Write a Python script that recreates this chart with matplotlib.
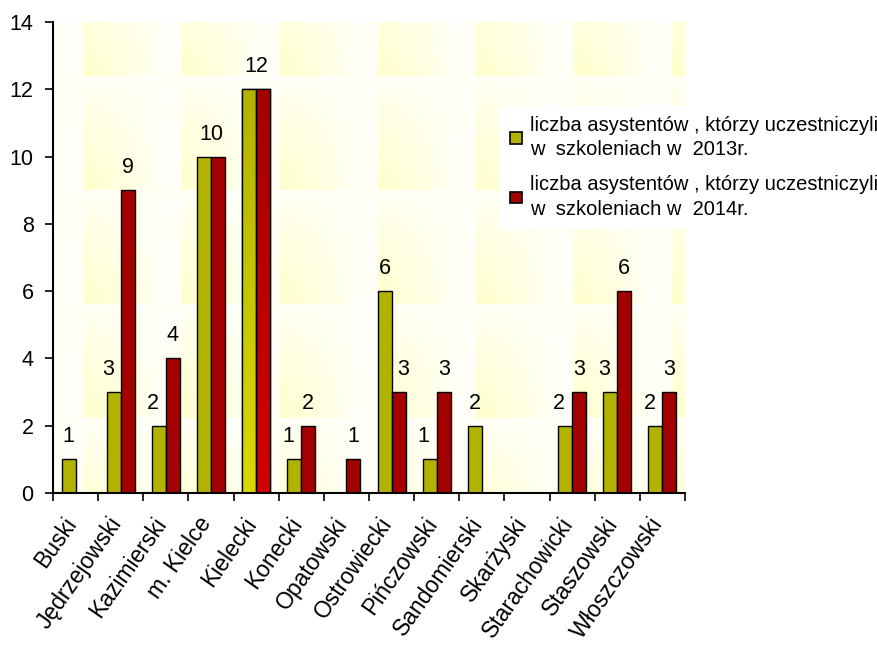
import numpy as np
import matplotlib
matplotlib.use("Agg")
import matplotlib.pyplot as plt
import matplotlib.transforms as mtransforms
from matplotlib.patches import Patch

plt.rcParams['font.family'] = ['Liberation Sans', 'DejaVu Sans']

powiaty = ['Buski', 'Jędrzejowski', 'Kazimierski', 'm. Kielce', 'Kielecki',
           'Konecki', 'Opatowski', 'Ostrowiecki', 'Pińczowski', 'Sandomierski',
           'Skarżyski', 'Starachowicki', 'Staszowski', 'Włoszczowski']
asyst_2013 = [1, 3, 2, 10, 12, 1, 0, 6, 1, 2, 0, 2, 3, 2]
asyst_2014 = [0, 9, 4, 10, 12, 2, 1, 3, 3, 0, 0, 3, 6, 3]
label_2013 = 'liczba asystentów , którzy uczestniczyli\nw  szkoleniach w  2013r.'
label_2014 = 'liczba asystentów , którzy uczestniczyli\nw  szkoleniach w  2014r.'

olive = '#b2b200'
dark_red = '#a30000'

W, H = 877, 648
fig = plt.figure(figsize=(W / 100, H / 100), dpi=100)
# axes box in pixels (left, right, top, bottom)
L, R, T, B = 53, 685, 22, 493
ax = fig.add_axes([L / W, 1 - B / H, (R - L) / W, (B - T) / H])

# pale yellow tiled texture behind the plot area
X, Y = np.meshgrid(np.arange(L, R), np.arange(T, B))
px = (X - 84) % 98
py = (Y - 76) % 114
hf = np.clip(1 - px / 75.0, 0, 1) ** 0.7
vf = (py / 114.0) ** 0.7
a = np.clip(0.12 + 0.88 * hf * vf, 0, 1)
yel = np.array([1.0, 1.0, 0.80])
tex = np.ones(X.shape + (3,)) * (1 - a[..., None]) + yel * a[..., None]
ax.imshow(tex, extent=[0, 1, 0, 1], transform=ax.transAxes, aspect='auto',
          zorder=0, interpolation='nearest')

x = np.arange(len(powiaty))
bw = 0.31
b1 = ax.bar(x - bw / 2, asyst_2013, bw, color=olive, edgecolor='black',
            linewidth=1.0, zorder=2, label=label_2013)
b2 = ax.bar(x + bw / 2, asyst_2014, bw, color=dark_red, edgecolor='black',
            linewidth=1.0, zorder=2, label=label_2014)

# Kielecki bars have a brighter gradient toward the bottom
k = powiaty.index('Kielecki')
for bars, top_c, bot_c in [(b1, (0.70, 0.70, 0.0), (0.85, 0.85, 0.0)),
                           (b2, (0.64, 0.0, 0.0), (0.82, 0.0, 0.0))]:
    p = bars[k]
    g = np.linspace(0, 1, 100)[:, None, None]
    img = np.array(top_c) * (1 - g) + np.array(bot_c) * g
    img = np.repeat(img, 2, axis=1)
    xb, yb = p.get_x(), p.get_height()
    im = ax.imshow(img, extent=[xb, xb + p.get_width(), 0, yb],
                   aspect='auto', zorder=2.1)
    im.set_clip_path(p)
    ax.bar(xb + p.get_width() / 2, yb, p.get_width(), fill=False,
           edgecolor='black', linewidth=1.0, zorder=2.2)

# value labels: one label over the group when both years are equal,
# the lower label of a pair is nudged outward a little
for i, (v1, v2) in enumerate(zip(asyst_2013, asyst_2014)):
    if v1 == v2:
        spots = [(x[i], v1, 0)] if v1 else []
    else:
        both = v1 > 0 and v2 > 0
        d1 = -6 if (both and v1 < v2) else 0
        d2 = 5 if (both and v2 < v1) else 0
        spots = [(x[i] - bw / 2, v1, d1), (x[i] + bw / 2, v2, d2)]
    for xs, v, dx in spots:
        if v == 0:
            continue
        ax.annotate(str(v), (xs, v), xytext=(dx, 17), textcoords='offset pixels',
                    ha='center', va='baseline', fontsize=15.5, zorder=3)

ax.set_xlim(-0.5, len(powiaty) - 0.5)
ax.set_ylim(0, 14)
ax.set_yticks(np.arange(0, 15, 2))
ax.tick_params(axis='y', labelsize=15.5, length=6, width=1.2, pad=8)

ax.set_xticks(np.arange(-0.5, len(powiaty), 1))
ax.set_xticklabels([])
ax.tick_params(axis='x', length=6, width=1.2)
ax.set_xticks(x, minor=True)
ax.set_xticklabels(powiaty, minor=True, rotation=55, ha='right',
                   va='center', rotation_mode='anchor', fontsize=16.5)
ax.tick_params(axis='x', which='minor', length=0, pad=19)
shift = mtransforms.ScaledTranslation(-4 / 100, 0, fig.dpi_scale_trans)
for lab in ax.get_xticklabels(minor=True):
    lab.set_transform(lab.get_transform() + shift)

for s in ['top', 'right']:
    ax.spines[s].set_visible(False)
for s in ['left', 'bottom']:
    ax.spines[s].set_linewidth(1.5)

h1 = Patch(facecolor=olive, edgecolor='black', linewidth=1.2)
h2 = Patch(facecolor=dark_red, edgecolor='black', linewidth=1.2)
leg = fig.legend([h1, h2], [label_2013, label_2014], loc='upper left',
                 bbox_to_anchor=(500 / W, 1 - 106 / H), fontsize=14.5,
                 frameon=True, fancybox=False, facecolor='white',
                 edgecolor='none', framealpha=1, handlelength=0.6,
                 handleheight=0.5, handletextpad=0.4, labelspacing=0.8,
                 borderpad=0.5, borderaxespad=0)
for t in leg.get_texts():
    t.set_linespacing(1.35)

fig.savefig('out.png', dpi=100)
